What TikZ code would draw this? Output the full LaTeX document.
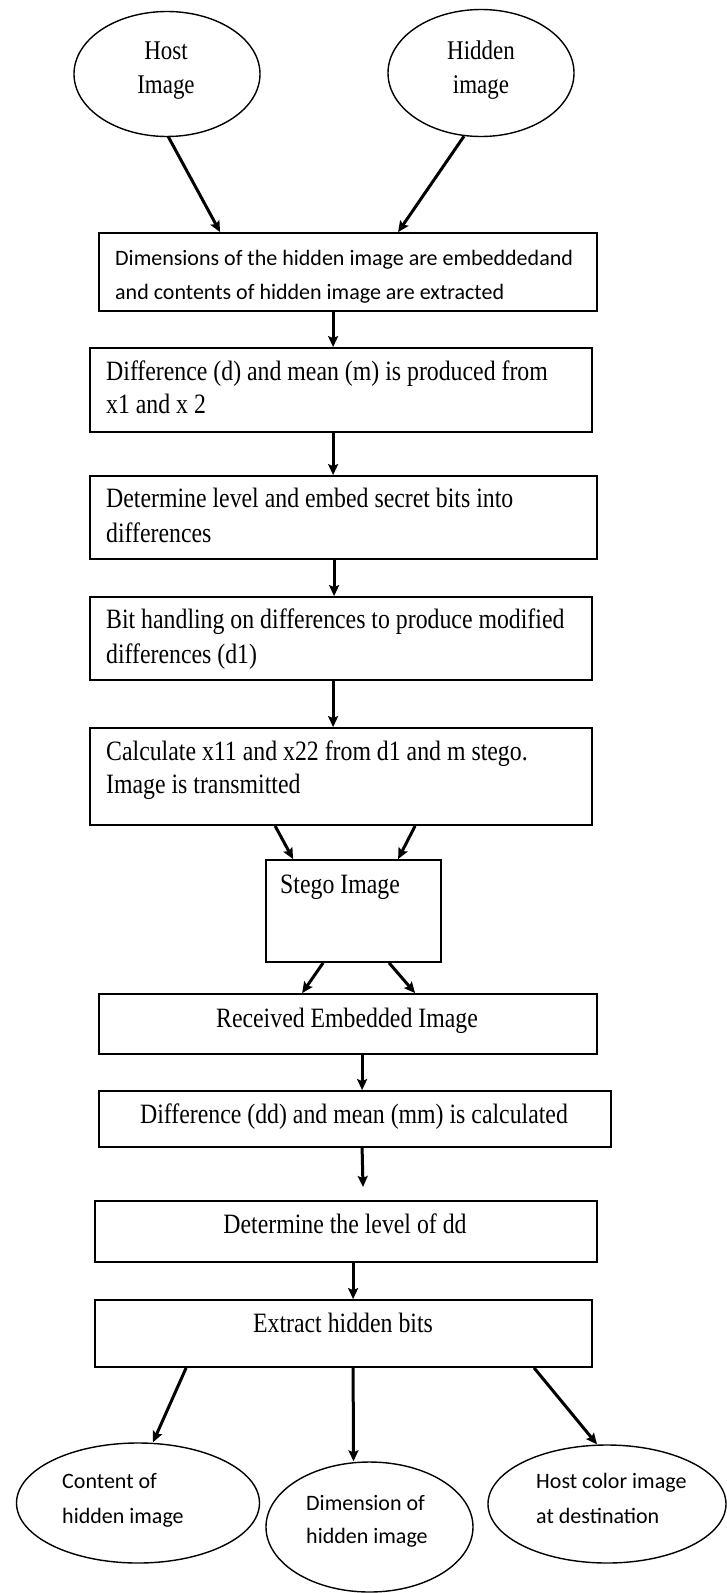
\documentclass[tikz,border=0pt]{standalone}
\usepackage{fontspec}
\setmainfont{Liberation Serif}
\newfontfamily\narrowserif[FakeStretch=0.85]{Liberation Serif}
\newfontfamily\bodysans{Carlito}
\usetikzlibrary{shapes.geometric,arrows.meta,calc}

\begin{document}
\begin{tikzpicture}[x=1pt,y=-1pt,
  box/.style={draw, line width=1.8pt, rectangle, inner sep=0pt},
  oval/.style={draw, line width=1.4pt, ellipse, inner sep=0pt},
  flow/.style={line width=3pt, -{Stealth[length=11pt,width=10pt,inset=2pt]}},
  sr/.style={inner sep=0pt, font=\narrowserif\fontsize{28}{32}\selectfont},
  srbig/.style={inner sep=0pt, font=\narrowserif\fontsize{27}{32}\selectfont},
  ss/.style={inner sep=0pt, font=\bodysans\fontsize{22}{26}\selectfont},
  lft/.style={anchor=base west},
  mid/.style={anchor=base}]

\useasboundingbox (0,0) rectangle (726,1593);

% source images
\node[oval, minimum width=186pt, minimum height=125pt] (host) at (167,74) {};
\node[oval, minimum width=186pt, minimum height=127pt] (hidden) at (481,73) {};
\node[srbig, mid] (hostA) at (166,59) {Host};
\node[srbig, mid] (hostB) at (166,93) {Image};
\node[srbig, mid] (hidA) at (481,59) {Hidden};
\node[srbig, mid] (hidB) at (481,93) {image};

% embedding steps
\node[box, minimum width=498pt, minimum height=78pt] (b1) at (348,272) {};
\node[box, minimum width=502pt, minimum height=84pt] (b2) at (341,390) {};
\node[box, minimum width=507pt, minimum height=83pt] (b3) at (343.5,517.5) {};
\node[box, minimum width=502pt, minimum height=83pt] (b4) at (341,638.5) {};
\node[box, minimum width=502pt, minimum height=97pt] (b5) at (341,776.5) {};
\node[box, minimum width=175pt, minimum height=102pt] (stego) at (353.5,911) {};

\node[ss, lft] (t1a) at (115,265) {Dimensions of the hidden image are embeddedand};
\node[ss, lft] (t1b) at (115,299) {and contents of hidden image are extracted};
\node[sr, lft] (t2a) at (106,380) {Difference (d) and mean (m) is produced from};
\node[sr, lft] (t2b) at (106,413) {x1 and x 2};
\node[sr, lft] (t3a) at (106,507) {Determine level and embed secret bits into};
\node[sr, lft] (t3b) at (106,542) {differences};
\node[sr, lft] (t4a) at (106,628) {Bit handling on differences to produce modified};
\node[sr, lft] (t4b) at (106,663) {differences (d1)};
\node[sr, lft] (t5a) at (106,760) {Calculate x11 and x22 from d1 and m stego.};
\node[sr, lft] (t5b) at (106,793) {Image is transmitted};
\node[sr, lft] (ts) at (280,893) {Stego Image};

% extraction steps
\node[box, minimum width=498pt, minimum height=60pt] (b6) at (348,1024) {};
\node[box, minimum width=512pt, minimum height=56pt] (b7) at (355,1119) {};
\node[box, minimum width=502pt, minimum height=61pt] (b8) at (346,1231.5) {};
\node[box, minimum width=497pt, minimum height=67pt] (b9) at (343.5,1333.5) {};
\node[sr, mid] (t6) at (347,1027) {Received Embedded Image};
\node[sr, mid] (t7) at (354,1123) {Difference (dd) and mean (mm) is calculated};
\node[sr, mid] (t8) at (345,1233) {Determine the level of dd};
\node[sr, mid] (t9) at (343,1332) {Extract hidden bits};

% outputs
\node[oval, minimum width=243pt, minimum height=120pt] (e1) at (138,1503) {};
\node[oval, minimum width=207pt, minimum height=130pt] (e2) at (369.5,1527) {};
\node[oval, minimum width=238pt, minimum height=118pt] (e3) at (607,1504) {};
\node[ss, lft] (o1a) at (62,1488) {Content of};
\node[ss, lft] (o1b) at (62,1523) {hidden image};
\node[ss, lft] (o2a) at (306,1510) {Dimension of};
\node[ss, lft] (o2b) at (306,1543) {hidden image};
\node[ss, lft] (o3a) at (536,1488) {Host color image};
\node[ss, lft] (o3b) at (536,1523) {at destination};

\coordinate (gap) at (363,1187);

% connectors
\draw[flow] ($(host.south)+(1,-1)$) -- ($(b1.north west)+(122,0)$);
\draw[flow] ($(hidden.south)+(-17,-1)$) -- ($(b1.north west)+(300,0)$);
\draw[flow] ($(b1.south west)+(235,0)$) -- ($(b2.north west)+(244,0)$);
\draw[flow] ($(b2.south west)+(244,0)$) -- ($(b3.north west)+(244,0)$);
\draw[flow] ($(b3.south west)+(245,0)$) -- ($(b4.north west)+(245,0)$);
\draw[flow] ($(b4.south west)+(244,0)$) -- ($(b5.north west)+(244,0)$);
\draw[flow] ($(b5.south west)+(186,0)$) -- ($(stego.north west)+(28,0)$);
\draw[flow] ($(b5.south west)+(326,0)$) -- ($(stego.north west)+(133,0)$);
\draw[flow] ($(stego.south west)+(58,0)$) -- ($(b6.north west)+(204,0)$);
\draw[flow] ($(stego.south west)+(124,0)$) -- ($(b6.north west)+(317,0)$);
\draw[flow] ($(b6.south west)+(264,0)$) -- ($(b7.north west)+(264,0)$);
\draw[flow] ($(b7.south west)+(264,0)$) -- (gap);
\draw[flow] ($(b8.south west)+(259,0)$) -- ($(b9.north west)+(259,0)$);
\draw[flow] ($(b9.south west)+(92,0)$) -- ($(e1.north)+(15,0)$);
\draw[flow] ($(b9.south west)+(259,0)$) -- ($(e2.north)+(-16,0)$);
\draw[flow] ($(b9.south west)+(440,0)$) -- ($(e3.north)+(-10,0)$);
\end{tikzpicture}
\end{document}
